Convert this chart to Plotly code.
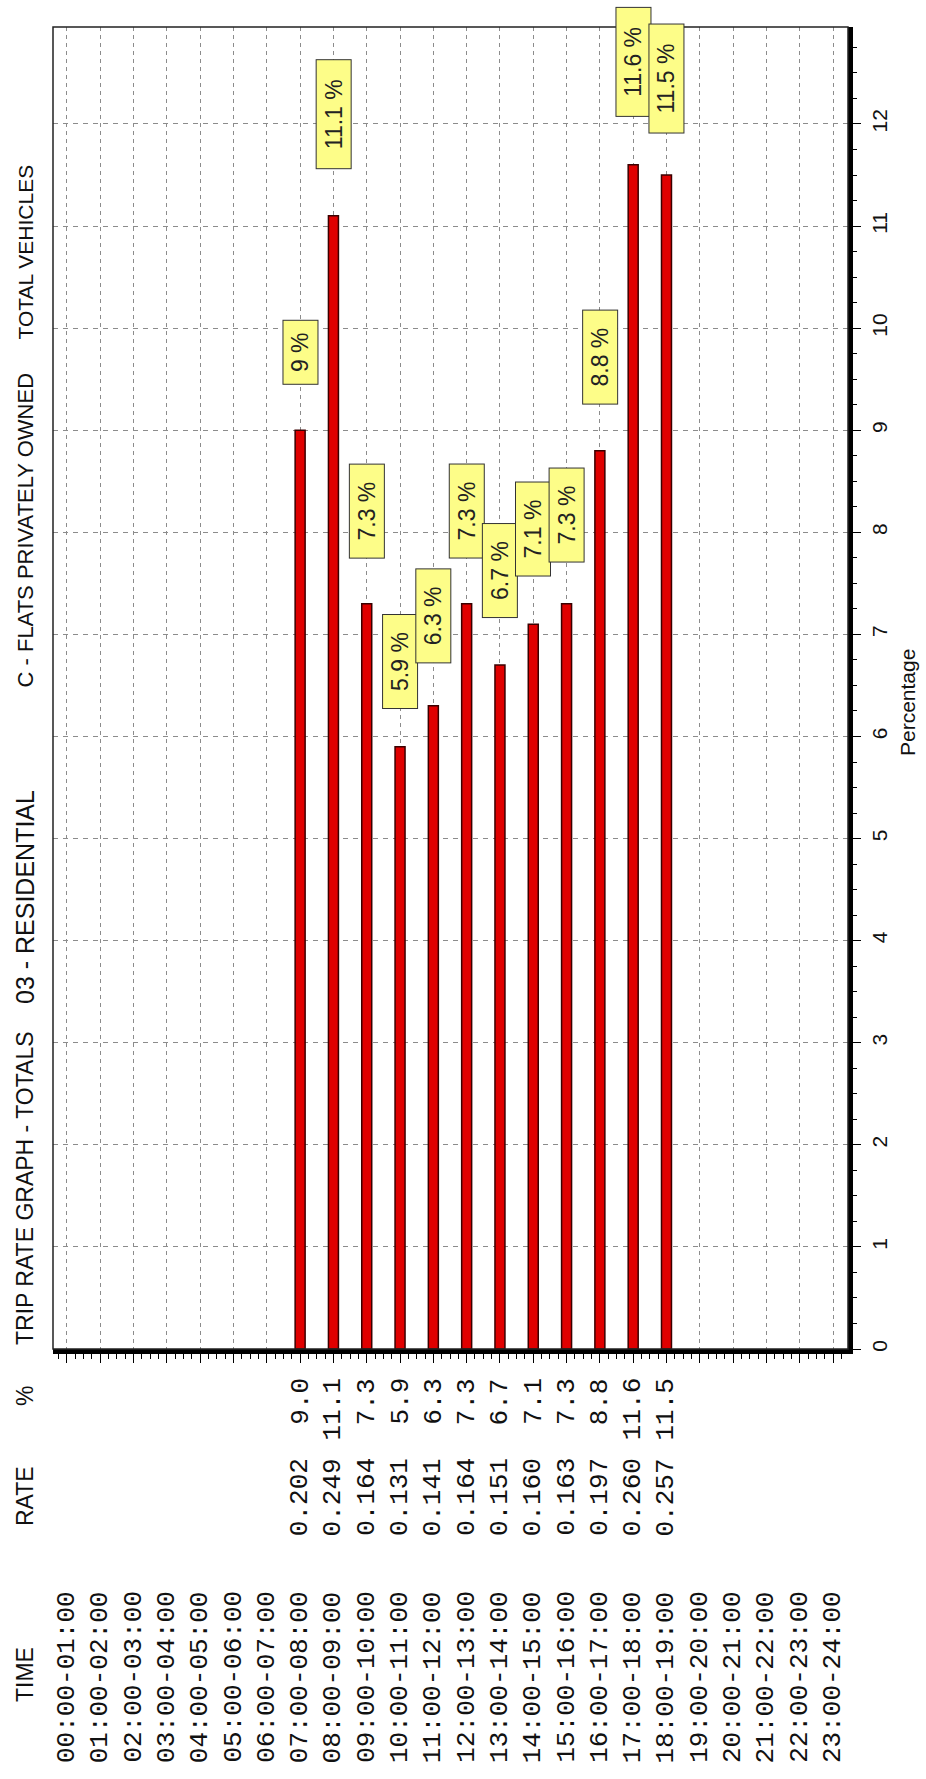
import plotly.graph_objects as go

# ---------------- data ----------------
time_labels = [
    "00:00-01:00", "01:00-02:00", "02:00-03:00", "03:00-04:00", "04:00-05:00",
    "05:00-06:00", "06:00-07:00", "07:00-08:00", "08:00-09:00", "09:00-10:00",
    "10:00-11:00", "11:00-12:00", "12:00-13:00", "13:00-14:00", "14:00-15:00",
    "15:00-16:00", "16:00-17:00", "17:00-18:00", "18:00-19:00", "19:00-20:00",
    "20:00-21:00", "21:00-22:00", "22:00-23:00", "23:00-24:00",
]
rates = [None] * 7 + [0.202, 0.249, 0.164, 0.131, 0.141, 0.164,
                      0.151, 0.160, 0.163, 0.197, 0.260, 0.257] + [None] * 5
percents = [None] * 7 + [9.0, 11.1, 7.3, 5.9, 6.3, 7.3,
                         6.7, 7.1, 7.3, 8.8, 11.6, 11.5] + [None] * 5
percent_ticks = list(range(0, 13))
title_parts = ["TRIP RATE GRAPH - TOTALS", "03 - RESIDENTIAL",
               "C - FLATS PRIVATELY OWNED", "TOTAL VEHICLES"]
col_headers = ["TIME", "RATE", "%"]
axis_title = "Percentage"

# ---------------- style / layout ----------------
W, H = 926, 1779
PL, PR, PT, PB = 53, 848, 27, 1349
X_RANGE = [-0.42, 23.45]
Y_RANGE = [0, 12.95]

# label box centre offsets above bar tops (data units), by category index
label_offsets = {7: 0.76, 8: 1.00, 9: 0.91, 10: 0.83, 11: 0.88, 12: 0.91,
                 13: 0.93, 14: 0.93, 15: 0.87, 16: 0.92, 17: 1.01, 18: 0.95}
title_starts_px = [1347, 1006, 690, 342]
title_sizes = [23, 25, 22, 21]
header_centres_px = [1675, 1496, 1396]

SANS = "Liberation Sans, Arial, sans-serif"
MONO = "Liberation Mono, Courier New, monospace"
GRID = "#8c8c8c"


def ypaper(py):
    return (PB - py) / (PB - PT)


def xpaper(px):
    return (px - PL) / (PR - PL)


x_idx = list(range(len(time_labels)))

fig = go.Figure()
fig.add_trace(go.Bar(
    x=x_idx, y=percents, width=0.3,
    marker=dict(color="#e00000", line=dict(color="#3a0000", width=1.5)),
    hoverinfo="skip",
))

ann = []
# title (rotated)
for part, start, fs in zip(title_parts, title_starts_px, title_sizes):
    ann.append(dict(text=part, xref="paper", yref="paper", x=xpaper(25), y=ypaper(start),
                    xanchor="center", yanchor="bottom", textangle=-90, showarrow=False,
                    font=dict(family=SANS, size=fs, color="#111")))
# column headers
for hdr, cy in zip(col_headers, header_centres_px):
    ann.append(dict(text=hdr, xref="paper", yref="paper", x=xpaper(25), y=ypaper(cy),
                    xanchor="center", yanchor="middle", textangle=-90, showarrow=False,
                    font=dict(family=SANS, size=23, color="#111")))
# table rows
for i, lab in enumerate(time_labels):
    ann.append(dict(text=lab, xref="x", yref="paper", x=i, y=ypaper(1677),
                    xanchor="center", yanchor="middle", textangle=-90, showarrow=False,
                    font=dict(family=MONO, size=26, color="#111")))
    if rates[i] is not None:
        ann.append(dict(text=f"{rates[i]:.3f}", xref="x", yref="paper", x=i, y=ypaper(1497),
                        xanchor="center", yanchor="middle", textangle=-90, showarrow=False,
                        font=dict(family=MONO, size=26, color="#111")))
    if percents[i] is not None:
        ann.append(dict(text=f"{percents[i]:.1f}", xref="x", yref="paper", x=i, y=ypaper(1376),
                        xanchor="center", yanchor="top", textangle=-90, showarrow=False,
                        font=dict(family=MONO, size=26, color="#111")))
# value label boxes
for i, v in enumerate(percents):
    if v is None:
        continue
    txt = f"{v:g} %"
    ann.append(dict(text=txt, xref="x", yref="y", x=i, y=v + label_offsets[i],
                    xanchor="center", yanchor="middle", textangle=-90, showarrow=False,
                    bgcolor="#fdfd88", bordercolor="#333", borderwidth=1, borderpad=4,
                    width=15 * len(txt) + 10,
                    font=dict(family=SANS, size=23, color="#222")))
# axis title
ann.append(dict(text=axis_title, xref="paper", yref="paper", x=xpaper(907), y=ypaper(703),
                xanchor="center", yanchor="middle", textangle=-90, showarrow=False,
                font=dict(family=SANS, size=21, color="#111")))

fig.update_layout(
    width=W, height=H,
    margin=dict(l=PL, r=W - PR, t=PT, b=H - PB, pad=0),
    paper_bgcolor="white", plot_bgcolor="white",
    showlegend=False,
    annotations=ann,
    shapes=[dict(type="rect", xref="paper", yref="paper", x0=0, x1=1, y0=0, y1=1,
                 line=dict(color="#222", width=1.5), layer="above")],
)
fig.update_xaxes(
    range=X_RANGE, tickmode="array", tickvals=x_idx, showticklabels=False,
    ticks="outside", ticklen=9, tickwidth=1, tickcolor="black",
    minor=dict(dtick=0.25, tick0=0, ticks="outside", ticklen=5, tickcolor="black", showgrid=False),
    showgrid=True, gridcolor=GRID, gridwidth=1, griddash="4px,4px",
    showline=True, linecolor="black", linewidth=5, zeroline=False,
)
fig.update_yaxes(
    range=Y_RANGE, side="right", tickmode="array", tickvals=percent_ticks,
    tickangle=-90, ticks="outside", ticklen=8, tickwidth=1, tickcolor="black",
    ticklabelstandoff=1,
    minor=dict(dtick=0.25, tick0=0, ticks="outside", ticklen=4, tickcolor="black", showgrid=False),
    showgrid=True, gridcolor=GRID, gridwidth=1, griddash="5px,5px",
    showline=True, linecolor="black", linewidth=5, zeroline=False,
    tickfont=dict(family=SANS, size=21, color="#111"),
)

fig.write_html(
    "out.html",
    config={"displayModeBar": False, "staticPlot": True},
    post_script="document.body.style.margin='0';document.body.style.overflow='hidden';",
)
